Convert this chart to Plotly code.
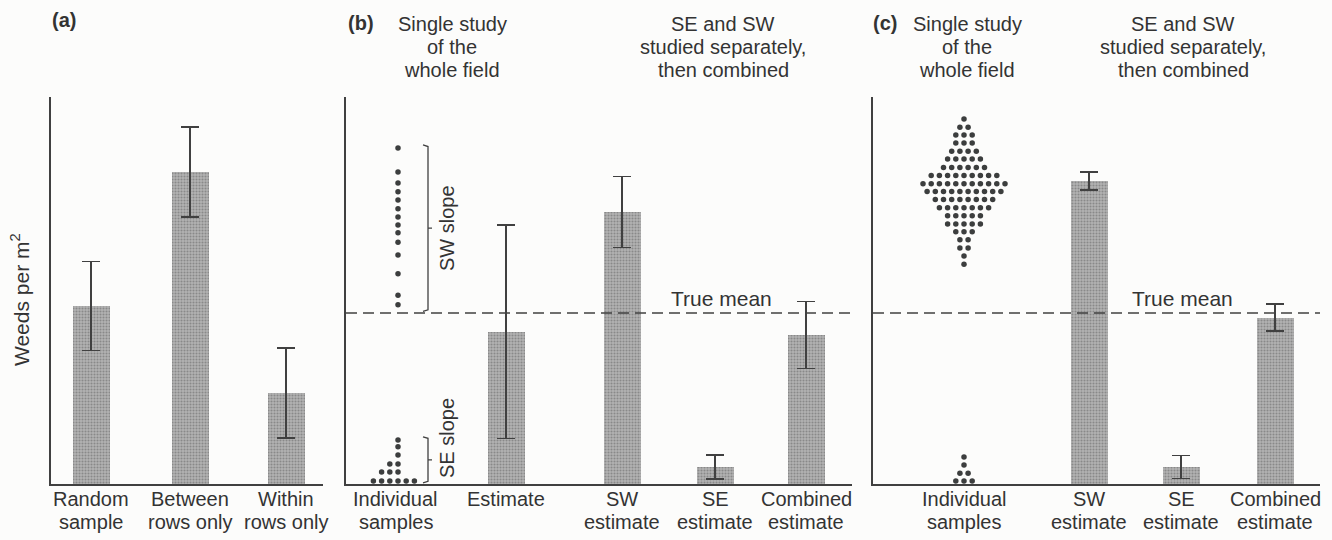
import plotly.graph_objects as go

W, H = 1332, 540

# ------------------------------------------------------------------ data
y_label = "Weeds per m<sup>2</sup>"
true_mean = 44.2

# panel (a)
a_labels = [["Random", "sample"], ["Between", "rows only"], ["Within", "rows only"]]
a_means = [46.0, 80.6, 23.5]
a_errors = [11.5, 11.6, 11.6]

# panel (b)
b_labels = [["Individual", "samples"], ["Estimate"], ["SW", "estimate"],
            ["SE", "estimate"], ["Combined", "estimate"]]
b_means = [39.3, 70.3, 4.4, 38.5]          # Estimate, SW, SE, Combined
b_errors = [27.6, 9.2, 3.1, 8.7]
b_sw_samples = [86.8, 80.6, 77.8, 75.5, 73.4, 71.1, 69.0, 66.9,
                64.9, 62.5, 59.2, 54.3, 48.8, 46.3]
b_se_levels = [0.8, 3.1, 5.2, 7.5, 9.6, 11.4]
b_se_counts = [6, 3, 2, 1, 1, 1]

# panel (c)
c_labels = [["Individual", "samples"], ["SW", "estimate"], ["SE", "estimate"],
            ["Combined", "estimate"]]
c_means = [78.3, 4.4, 43.0]                # SW, SE, Combined
c_errors = [2.3, 3.0, 3.5]
c_sw_levels = [94.3, 92.2, 90.2, 88.1, 86.0, 84.0, 81.8, 79.7, 77.6, 75.6,
               73.5, 71.4, 69.3, 67.2, 65.2, 63.1, 61.0, 58.9, 56.8]
c_sw_counts = [1, 2, 3, 3, 4, 5, 6, 9, 11, 10, 8, 7, 5, 5, 3, 2, 2, 1, 1]
c_se_levels = [7.0, 4.9, 2.8, 0.8]
c_se_counts = [1, 1, 2, 3]

# ------------------------------------------------------------------ layout constants
FONT = "Liberation Sans, Arial, Helvetica, sans-serif"
TXT = "#333333"
INK = "#404040"
DOT = "#3c3e3e"
Y_TOP, Y_BOT = 97, 484          # px of y-axis top and baseline
panels = {                       # left px, right px of each panel
    "a": (51, 323),
    "b": (346, 852),
    "c": (873, 1320),
}
a_pos = [40, 139, 235]
b_pos = [50, 160, 276, 369, 460]
c_pos = [91, 216, 308, 402]
BAR_W = 37
DOT_DX = 8.2
LBL1, LBL2 = 499, 522            # px of the two label lines


def px(x):
    return x / W


def py(y):
    return 1 - y / H


bar_marker = dict(
    color="#a8a8a8",
    line=dict(width=0),
    pattern=dict(shape=".", fgcolor="#5f5f5f", bgcolor="#b3b3b3",
                 size=3, solidity=0.4),
)


def err(vals):
    return dict(type="data", array=vals, visible=True, color=INK,
                thickness=1.5, width=9)


fig = go.Figure()

# ---- panel (a)
fig.add_trace(go.Bar(x=a_pos, y=a_means, width=BAR_W, marker=bar_marker,
                     error_y=err(a_errors), xaxis="x", yaxis="y",
                     hoverinfo="skip", showlegend=False))

# ---- panel (b)
fig.add_trace(go.Bar(x=b_pos[1:], y=b_means, width=BAR_W, marker=bar_marker,
                     error_y=err(b_errors), xaxis="x2", yaxis="y2",
                     hoverinfo="skip", showlegend=False))
dot_x0 = b_pos[0] + 2
fig.add_trace(go.Scatter(x=[dot_x0] * len(b_sw_samples), y=b_sw_samples,
                         mode="markers", marker=dict(size=5.5, color=DOT),
                         xaxis="x2", yaxis="y2", hoverinfo="skip",
                         showlegend=False))
se_start = [0, 1, 2, 3, 3, 3]
sx, sy = [], []
for lvl, n, s in zip(b_se_levels, b_se_counts, se_start):
    for k in range(n):
        sx.append(dot_x0 + (s + k - 3) * DOT_DX)
        sy.append(lvl)
fig.add_trace(go.Scatter(x=sx, y=sy, mode="markers",
                         marker=dict(size=5.5, color=DOT),
                         xaxis="x2", yaxis="y2", hoverinfo="skip",
                         showlegend=False))


# brackets
def bracket(top, bot, xb=82):
    mid = (top + bot) / 2
    return go.Scatter(
        x=[xb - 5, xb, xb, xb + 4, xb, xb, xb - 5],
        y=[top, top - 0.4, mid, mid, mid, bot + 0.4, bot],
        mode="lines", line=dict(color=INK, width=1.3),
        xaxis="x2", yaxis="y2", hoverinfo="skip", showlegend=False)


fig.add_trace(bracket(max(b_sw_samples) + 0.8, true_mean + 0.4))
fig.add_trace(bracket(max(b_se_levels) + 0.8, 0.3))

# ---- panel (c)
fig.add_trace(go.Bar(x=c_pos[1:], y=c_means, width=BAR_W, marker=bar_marker,
                     error_y=err(c_errors), xaxis="x3", yaxis="y3",
                     hoverinfo="skip", showlegend=False))
cx, cy = [], []
for lvls, cnts in ((c_sw_levels, c_sw_counts), (c_se_levels, c_se_counts)):
    for lvl, n in zip(lvls, cnts):
        for k in range(n):
            cx.append(c_pos[0] + (k - (n - 1) / 2) * DOT_DX)
            cy.append(lvl)
fig.add_trace(go.Scatter(x=cx, y=cy, mode="markers",
                         marker=dict(size=5.5, color=DOT),
                         xaxis="x3", yaxis="y3", hoverinfo="skip",
                         showlegend=False))

# ---- axes
ydom = [py(Y_BOT), py(Y_TOP)]
common = dict(showgrid=False, zeroline=False, showticklabels=False, ticks="",
              showline=True, linecolor=INK, linewidth=1.5, fixedrange=True)
layout_axes = {}
for i, key in enumerate(["a", "b", "c"]):
    l, r = panels[key]
    sfx = "" if i == 0 else str(i + 1)
    layout_axes["xaxis" + sfx] = dict(common, domain=[px(l), px(r)],
                                      range=[0, r - l], anchor="y" + sfx)
    layout_axes["yaxis" + sfx] = dict(common, domain=ydom, range=[0, 100],
                                      anchor="x" + sfx)

# ---- true mean dashed lines
shapes = []
for sfx in ["2", "3"]:
    shapes.append(dict(type="line", xref="x" + sfx + " domain", yref="y" + sfx,
                       x0=0, x1=1, y0=true_mean, y1=true_mean,
                       line=dict(color=INK, width=1.6, dash="11px,6px"),
                       layer="above"))

# ---- text
ann = []


def text(x, y, s, size=20, xanchor="center", angle=0, xref="paper", bold=False):
    ann.append(dict(x=x, y=py(y), xref=xref, yref="paper", text=s,
                    showarrow=False, xanchor=xanchor, yanchor="middle",
                    textangle=angle,
                    font=dict(family=FONT, size=size, color=TXT,
                              weight="bold" if bold else "normal")))


def cat_labels(labels, pos, xref):
    for lines, p in zip(labels, pos):
        for j, line in enumerate(lines):
            text(p, LBL1 if j == 0 else LBL2, line, xref=xref)


cat_labels(a_labels, a_pos, "x")
cat_labels(b_labels, b_pos, "x2")
cat_labels(c_labels, c_pos, "x3")

text(px(50), 20, "(a)", xanchor="left", bold=True)
text(px(346), 23, "(b)", xanchor="left", bold=True)
text(px(871), 23, "(c)", xanchor="left", bold=True)

headers_single = ["Single study", "of the", "whole field"]
headers_split = ["SE and SW", "studied separately,", "then combined"]
for j, yy in enumerate([24, 47, 70]):
    text(px(452), yy, headers_single[j])
    text(px(723), yy, headers_split[j])
    text(px(967), yy, headers_single[j])
    text(px(1183), yy, headers_split[j])

text(px(721), 298, "True mean", size=21)
text(px(1182), 298, "True mean", size=21)
text(px(447), 228, "SW slope", angle=-90)
text(px(447), 438, "SE slope", angle=-90)
text(px(20), 300, y_label, size=21, angle=-90)

fig.update_layout(
    width=W, height=H, autosize=False,
    margin=dict(l=0, r=0, t=0, b=0),
    paper_bgcolor="#fcfcfb", plot_bgcolor="rgba(0,0,0,0)",
    bargap=0, barmode="overlay",
    shapes=shapes, annotations=ann,
    font=dict(family=FONT, color=TXT),
    **layout_axes,
)

fig.write_html("out.html")
